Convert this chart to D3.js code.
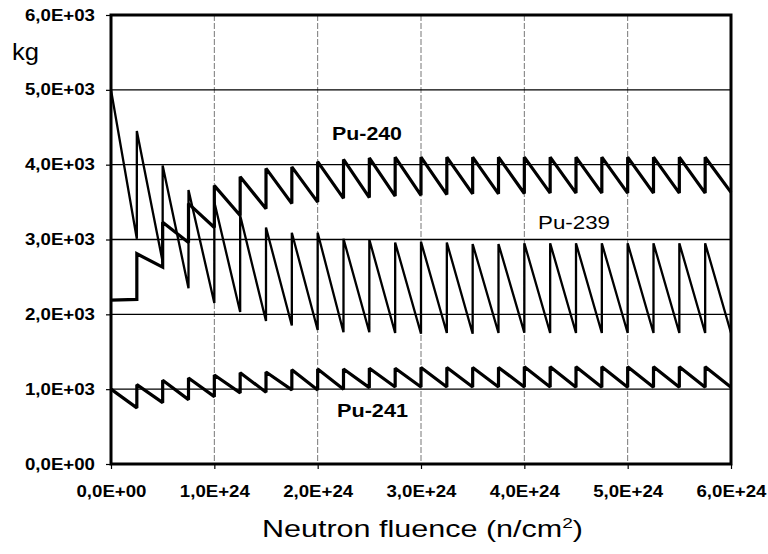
<!DOCTYPE html>
<html>
<head>
<meta charset="utf-8">
<script src="https://cdn.jsdelivr.net/npm/d3@7"></script>
<style>
  body { margin: 0; background: #fff; }
  text { font-family: "Liberation Sans", Arial, sans-serif; fill: #000; }
  .tick-label { font-size: 16px; font-weight: bold; }
  .series-label { font-size: 19px; }
</style>
</head>
<body>
<div id="chart"></div>
<script>
// ====== Pu isotopes vs neutron fluence ======

// reload points, in units of 1E24 n/cm2
const fluence = [0, 0.25, 0.5, 0.75, 1.0, 1.25, 1.5, 1.75, 2.0, 2.25, 2.5, 2.75, 3.0,
                 3.25, 3.5, 3.75, 4.0, 4.25, 4.5, 4.75, 5.0, 5.25, 5.5, 5.75, 6.0];

// kg at the start and at the end of every cycle
const pu239Start = [5000, 4450, 3990, 3660, 3500, 3320, 3160, 3090, 3090, 3010, 3000, 2960,
                    2970, 2960, 2940, 2940, 2950, 2950, 2950, 2950, 2950, 2950, 2950, 2950];
const pu239End   = [3010, 2700, 2350, 2150, 2030, 1910, 1850, 1790, 1760, 1760, 1750, 1740,
                    1750, 1740, 1750, 1755, 1750, 1750, 1750, 1750, 1750, 1750, 1750, 1750];

const pu240Start = [2190, 2810, 3230, 3480, 3720, 3840, 3950, 3970, 4040, 4070, 4090, 4100,
                    4100, 4100, 4100, 4100, 4100, 4100, 4100, 4100, 4100, 4100, 4100, 4100];
const pu240End   = [2200, 2630, 2960, 3160, 3320, 3410, 3480, 3500, 3550, 3560, 3580, 3590,
                    3600, 3610, 3610, 3615, 3620, 3620, 3620, 3620, 3620, 3620, 3620, 3630];

const pu241Start = [1000, 1060, 1120, 1150, 1190, 1220, 1230, 1260, 1270, 1270, 1280, 1280,
                    1290, 1290, 1290, 1290, 1300, 1300, 1300, 1300, 1300, 1300, 1300, 1300];
const pu241End   = [750, 820, 860, 900, 950, 960, 990, 990, 1000, 1020, 1030, 1030,
                    1030, 1030, 1030, 1030, 1030, 1025, 1025, 1025, 1025, 1025, 1025, 1025];

const xTicks = [0, 1, 2, 3, 4, 5, 6];
const xTickLabels = ["0,0E+00", "1,0E+24", "2,0E+24", "3,0E+24", "4,0E+24", "5,0E+24", "6,0E+24"];
const yTicks = [0, 1000, 2000, 3000, 4000, 5000, 6000];
const yTickLabels = ["0,0E+00", "1,0E+03", "2,0E+03", "3,0E+03", "4,0E+03", "5,0E+03", "6,0E+03"];

function buildChart () {
    let margin = {top: 15, right: 37, bottom: 90, left: 111},
        width = 768 - margin.left - margin.right,
        height = 554 - margin.top - margin.bottom;

    let x = d3.scaleLinear().domain([0, 6]).range([0, width]);
    let y = d3.scaleLinear().domain([0, 6000]).range([height, 0]);

    let svg = d3.select('#chart').append("svg")
                .attr("width", 768)
                .attr("height", 554)
                .append("g")
                .attr("transform", "translate(" + margin.left + "," + margin.top + ")");

    // vertical grid, dashed
    svg.append("g")
        .selectAll("line")
        .data(xTicks.slice(1, -1))
        .enter().append("line")
        .attr("x1", d => x(d)).attr("x2", d => x(d))
        .attr("y1", 0).attr("y2", height)
        .attr("stroke", "#777")
        .attr("stroke-width", 1)
        .attr("stroke-dasharray", "6,2");

    // horizontal grid, solid
    svg.append("g")
        .selectAll("line")
        .data(yTicks.slice(1, -1))
        .enter().append("line")
        .attr("x1", 0).attr("x2", width)
        .attr("y1", d => y(d)).attr("y2", d => y(d))
        .attr("stroke", "#000")
        .attr("stroke-width", 1.4);

    let xAxis = d3.axisBottom(x).tickValues(xTicks)
        .tickFormat((d, i) => xTickLabels[i]).tickSize(5).tickSizeOuter(0);
    let yAxis = d3.axisLeft(y).tickValues(yTicks)
        .tickFormat((d, i) => yTickLabels[i]).tickSize(5).tickPadding(11).tickSizeOuter(0);

    let gx = svg.append("g")
        .attr("transform", "translate(0," + height + ")")
        .call(xAxis);
    gx.select(".domain").remove();
    gx.selectAll("line").attr("stroke", "#000").attr("stroke-width", 1.2);
    gx.selectAll("text")
        .attr("class", "tick-label")
        .attr("y", 33).attr("dy", null)
        .attr("textLength", 70).attr("lengthAdjust", "spacingAndGlyphs");

    let gy = svg.append("g").call(yAxis);
    gy.select(".domain").remove();
    gy.selectAll("line").attr("stroke", "#000").attr("stroke-width", 1.2);
    gy.selectAll("text")
        .attr("class", "tick-label")
        .attr("textLength", 70).attr("lengthAdjust", "spacingAndGlyphs");

    // series
    function cycles(start, end) {
        let pts = [];
        start.forEach((s, i) => {
            pts.push([fluence[i], s]);
            pts.push([fluence[i + 1], end[i]]);
        });
        return pts;
    }

    let line = d3.line().x(d => x(d[0])).y(d => y(d[1]));

    let series = [
        {name: "Pu-239", pts: cycles(pu239Start, pu239End), w: 2.3},
        {name: "Pu-240", pts: cycles(pu240Start, pu240End), w: 3.2},
        {name: "Pu-241", pts: cycles(pu241Start, pu241End), w: 3.2}
    ];

    svg.selectAll(".series")
        .data(series)
        .enter().append("path")
        .attr("class", "series")
        .attr("d", d => line(d.pts))
        .attr("fill", "none")
        .attr("stroke", "#000")
        .attr("stroke-width", d => d.w)
        .attr("stroke-linejoin", "miter")
        .attr("stroke-miterlimit", 2);

    // frame
    svg.append("rect")
        .attr("width", width)
        .attr("height", height)
        .attr("fill", "none")
        .attr("stroke", "#000")
        .attr("stroke-width", 3);

    // labels
    svg.append("text")
        .attr("class", "series-label")
        .attr("x", 332 - margin.left).attr("y", 140 - margin.top)
        .style("font-weight", "bold")
        .attr("textLength", 70).attr("lengthAdjust", "spacingAndGlyphs")
        .text("Pu-240");

    svg.append("text")
        .attr("class", "series-label")
        .attr("x", 538 - margin.left).attr("y", 229 - margin.top)
        .attr("textLength", 72).attr("lengthAdjust", "spacingAndGlyphs")
        .text("Pu-239");

    svg.append("text")
        .attr("class", "series-label")
        .attr("x", 337 - margin.left).attr("y", 417 - margin.top)
        .style("font-weight", "bold")
        .attr("textLength", 71).attr("lengthAdjust", "spacingAndGlyphs")
        .text("Pu-241");

    svg.append("text")
        .attr("x", 12 - margin.left).attr("y", 60 - margin.top)
        .style("font-size", "24px")
        .attr("textLength", 27).attr("lengthAdjust", "spacingAndGlyphs")
        .text("kg");

    let title = svg.append("text")
        .attr("x", 262 - margin.left).attr("y", 537 - margin.top)
        .style("font-size", "24px")
        .attr("textLength", 321).attr("lengthAdjust", "spacingAndGlyphs");
    title.append("tspan").text("Neutron fluence (n/cm");
    title.append("tspan").attr("dy", -9).style("font-size", "15px").text("2");
    title.append("tspan").attr("dy", 9).text(")");
}

buildChart();
</script>
</body>
</html>
